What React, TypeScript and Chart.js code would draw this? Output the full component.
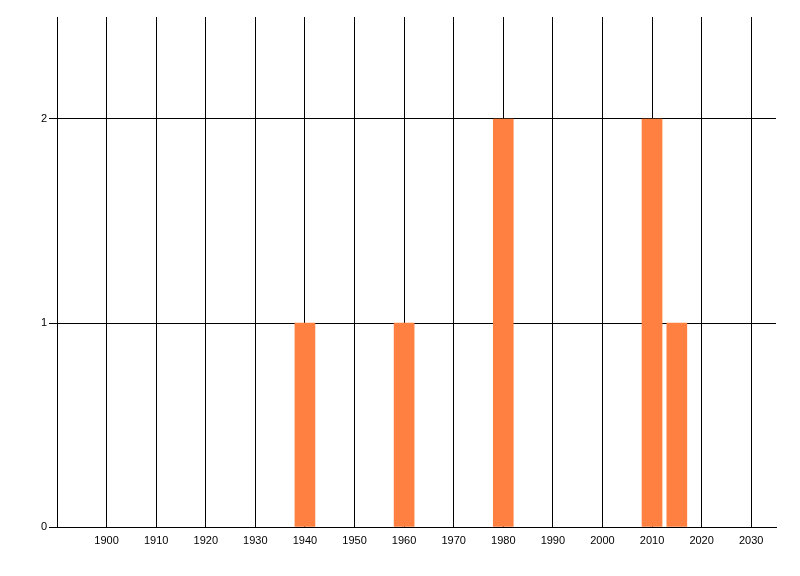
import { Chart, registerables } from "chart.js";
import { useEffect, useRef } from "react";

Chart.register(...registerables);

const years = [1940, 1960, 1980, 2010, 2015];
const counts = [1, 1, 2, 2, 1];
const xTicks = [1890, 1900, 1910, 1920, 1930, 1940, 1950, 1960, 1970, 1980, 1990, 2000, 2010, 2020, 2030];
const yTicks = [0, 1, 2];
const xMin = 1890;
const xMax = 2035;
const yMax = 2.5;

const FONT = { family: "'Liberation Sans', Arial, sans-serif", size: 11 };

export default function App() {
  const canvasRef = useRef<HTMLCanvasElement>(null);

  useEffect(() => {
    const ctx = canvasRef.current?.getContext("2d");
    if (!ctx) return;

    const chart = new Chart(ctx, {
      type: "bar",
      data: {
        datasets: [
          {
            data: years.map((y, i) => ({ x: y, y: counts[i] })),
            backgroundColor: "#FF8040",
            borderWidth: 0,
            barThickness: 20,
          },
        ],
      },
      options: {
        responsive: false,
        animation: false,
        layout: { padding: { top: 17, right: 24, left: 0, bottom: 0 } },
        plugins: { legend: { display: false }, tooltip: { enabled: false } },
        scales: {
          x: {
            type: "linear",
            min: xMin,
            max: xMax,
            offset: false,
            afterBuildTicks: (scale) => {
              scale.ticks = xTicks.map((v) => ({ value: v }));
            },
            afterFit: (scale) => {
              scale.height = 49;
            },
            ticks: {
              autoSkip: false,
              maxRotation: 0,
              color: "#000",
              font: FONT,
              padding: 7,
              callback: (v) => (v === xMin ? "" : String(v)),
            },
            grid: { color: "#000", lineWidth: 1, drawTicks: false, offset: false, z: -1 },
            border: { color: "#000" },
          },
          y: {
            min: 0,
            max: yMax,
            afterBuildTicks: (scale) => {
              scale.ticks = yTicks.map((v) => ({ value: v }));
            },
            afterFit: (scale) => {
              scale.width = 57;
            },
            ticks: { color: "#000", font: FONT, padding: 2 },
            grid: { color: "#000", lineWidth: 1, tickLength: 8, z: -1 },
            border: { color: "#000" },
          },
        },
      },
    });

    return () => chart.destroy();
  }, []);

  return (
    <div style={{ position: "fixed", left: 0, top: 0, width: 800, height: 576, background: "#fff" }}>
      <canvas ref={canvasRef} width={800} height={576} />
    </div>
  );
}
